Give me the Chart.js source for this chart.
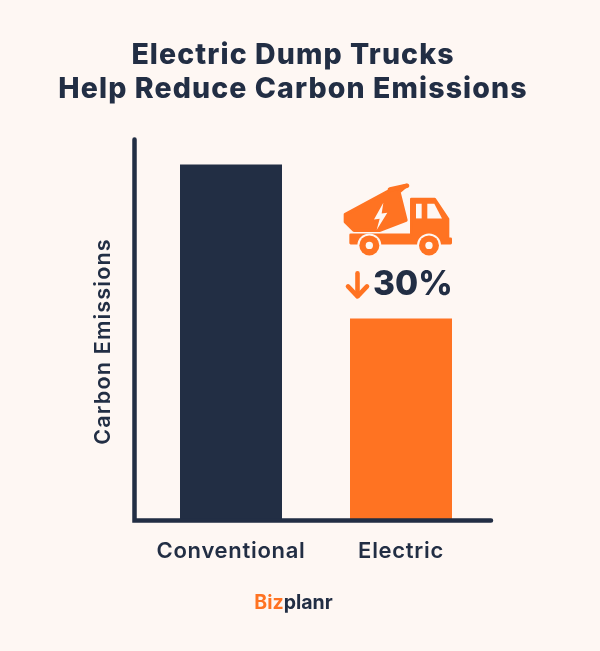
<!DOCTYPE html>
<html><head><meta charset="utf-8">
<script src="https://cdn.jsdelivr.net/npm/chart.js@4"></script>
<style>html,body{margin:0;padding:0;background:#FEF7F3}canvas{display:block}</style>
</head><body>
<div style="width:600px;height:651px;position:relative"><canvas id="c" width="600" height="651"></canvas></div>
<script>
const categories = ["Conventional", "Electric"];
const emissions = [100, 56.7];
const barColors = ["#222E44", "#FF7322"];
const titleLines = ["Electric Dump Trucks", "Help Reduce Carbon Emissions"];
const yAxisLabel = "Carbon Emissions";
const changeLabel = "30%";
const brandParts = ["Biz", "planr"];
const NAVY = "#222E44", ORANGE = "#FF7322", BG = "#FEF7F3";
const FONT = "Inter, 'Open Sans', sans-serif";

function drawTruck(ctx, cx, top) {
  ctx.save();
  ctx.translate(cx - 71, top - 148.3);
  ctx.scale(1/3, 1/3);
  ctx.lineJoin = "round"; ctx.lineCap = "round";
  ctx.fillStyle = ORANGE; ctx.strokeStyle = ORANGE;
  // dump bed
  ctx.lineWidth = 10;
  ctx.beginPath();
  ctx.moveTo(46,133); ctx.lineTo(178,62); ctx.lineTo(230,46); ctx.lineTo(207,66);
  ctx.lineTo(228,150); ctx.lineTo(148,181); ctx.lineTo(72,181); ctx.lineTo(46,155);
  ctx.closePath(); ctx.fill(); ctx.stroke();
  ctx.lineWidth = 14;
  ctx.beginPath(); ctx.moveTo(180,58); ctx.lineTo(231,47); ctx.stroke();
  // cab and chassis
  ctx.lineWidth = 8;
  ctx.beginPath();
  ctx.moveTo(244,87); ctx.lineTo(314,87); ctx.lineTo(354,147); ctx.lineTo(354,206);
  ctx.lineTo(362,206); ctx.lineTo(362,219); ctx.lineTo(62,219); ctx.lineTo(62,194);
  ctx.lineTo(244,194);
  ctx.closePath(); ctx.fill(); ctx.stroke();
  // windows
  ctx.fillStyle = BG;
  ctx.beginPath(); ctx.rect(258,101,17,44); ctx.fill();
  ctx.beginPath(); ctx.moveTo(292,101); ctx.lineTo(313,101); ctx.lineTo(336,145); ctx.lineTo(292,145); ctx.closePath(); ctx.fill();
  // bolt
  ctx.beginPath();
  ctx.moveTo(160,98); ctx.lineTo(132,148); ctx.lineTo(149,146); ctx.lineTo(140,180);
  ctx.lineTo(172,128); ctx.lineTo(155,130); ctx.closePath(); ctx.fill();
  // wheels
  for (const wx of [118, 297]) {
    ctx.fillStyle = BG;
    ctx.beginPath(); ctx.arc(wx,226,36,0,Math.PI*2); ctx.fill();
    ctx.fillStyle = ORANGE;
    ctx.beginPath(); ctx.arc(wx,226,30,0,Math.PI*2); ctx.fill();
    ctx.fillStyle = BG;
    ctx.beginPath(); ctx.arc(wx,226,11,0,Math.PI*2); ctx.fill();
  }
  ctx.restore();
}

const decorations = {
  id: "decorations",
  beforeDraw(chart) { chart.ctx.letterSpacing = "1.1px"; },
  afterDatasetsDraw(chart) {
    const {ctx, chartArea: a, scales: {x, y}} = chart;
    ctx.save();
    // axis lines
    ctx.strokeStyle = NAVY; ctx.lineWidth = 4.5; ctx.lineCap = "round";
    const ax = a.left - 11.5, ay = a.bottom + 0.5;
    ctx.beginPath(); ctx.moveTo(ax, a.top + 2); ctx.lineTo(ax, ay); ctx.lineTo(a.right + 5, ay); ctx.stroke();
    // y axis label
    ctx.save();
    ctx.translate(104, a.bottom - 178.5);
    ctx.rotate(-Math.PI / 2);
    ctx.letterSpacing = "1.2px";
    ctx.font = "600 21.5px " + FONT; ctx.fillStyle = NAVY;
    ctx.textAlign = "center"; ctx.textBaseline = "middle";
    ctx.fillText(yAxisLabel, 0, 0);
    ctx.restore();
    // callout above electric bar
    const cx = x.getPixelForValue(1), top = y.getPixelForValue(emissions[1]);
    drawTruck(ctx, cx, top);
    ctx.strokeStyle = ORANGE; ctx.lineWidth = 4.6; ctx.lineJoin = "round";
    const ar = cx - 43.5;
    ctx.beginPath(); ctx.moveTo(ar, top - 45); ctx.lineTo(ar, top - 23); ctx.stroke();
    ctx.beginPath(); ctx.moveTo(ar - 9.5, top - 32); ctx.lineTo(ar, top - 22); ctx.lineTo(ar + 9.5, top - 32); ctx.stroke();
    ctx.letterSpacing = "0px";
    ctx.fillStyle = NAVY; ctx.font = "800 33.5px " + FONT;
    ctx.textAlign = "left"; ctx.textBaseline = "middle";
    ctx.fillText(changeLabel, cx - 28, top - 33);
    // brand
    ctx.font = "700 19.5px " + FONT; ctx.textBaseline = "middle";
    const w0 = ctx.measureText(brandParts[0]).width, w1 = ctx.measureText(brandParts[1]).width;
    const bx = 293.5 - (w0 + w1) / 2, by = a.bottom + 83;
    ctx.fillStyle = ORANGE; ctx.fillText(brandParts[0], bx, by);
    ctx.fillStyle = NAVY; ctx.fillText(brandParts[1], bx + w0, by);
    ctx.restore();
    // category labels are drawn after this hook
    ctx.letterSpacing = "0.7px";
  }
};

new Chart(document.getElementById("c"), {
  type: "bar",
  data: { labels: categories, datasets: [{ data: emissions, backgroundColor: barColors, barPercentage: 0.6, categoryPercentage: 1 }] },
  options: {
    responsive: false, animation: false,
    layout: { padding: { left: 0, right: 14, top: 0, bottom: 0 } },
    plugins: {
      legend: { display: false }, tooltip: { enabled: false },
      title: { display: true, text: titleLines, color: NAVY, align: "center",
        font: { family: FONT, size: 28.5, weight: "800", lineHeight: 1.2 },
        padding: { top: 38, bottom: 31 } }
    },
    scales: {
      x: { grid: { display: false }, border: { display: false },
        ticks: { color: NAVY, font: { family: FONT, size: 22, weight: "600" }, padding: 10, maxRotation: 0, autoSkip: false, z: 1 },
        afterFit(s) { s.height = 131; } },
      y: { min: 0, max: 107.6, grid: { display: false }, border: { display: false },
        ticks: { display: false },
        afterFit(s) { s.width = 146; } },
      spacer: { axis: "y", position: "right", grid: { display: false }, border: { display: false },
        ticks: { display: false },
        afterFit(s) { s.width = 100; } }
    }
  },
  plugins: [decorations]
});
</script>
</body></html>
